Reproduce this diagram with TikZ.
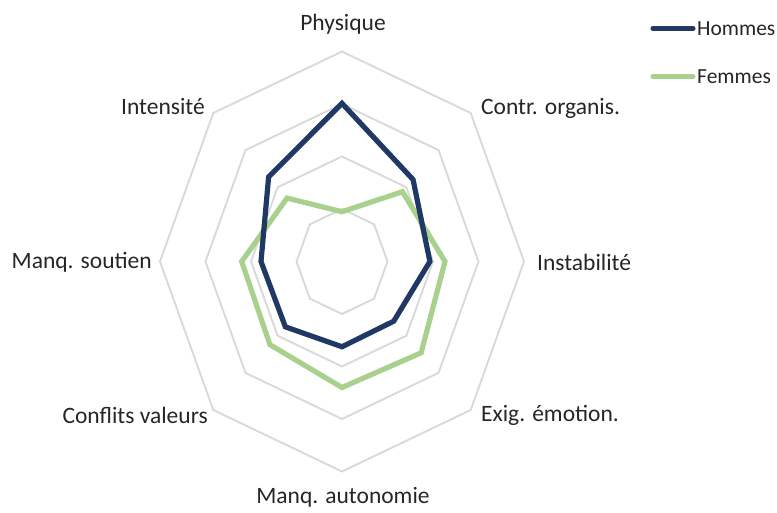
\documentclass[tikz,border=0pt]{standalone}
\usepackage{fontspec}
\setmainfont{Carlito}
\usetikzlibrary{positioning}
\definecolor{hommescolor}{RGB}{31,56,100}
\definecolor{femmescolor}{RGB}{169,209,142}
\definecolor{gridcolor}{RGB}{217,217,217}
\definecolor{labelcolor}{RGB}{38,38,38}

\begin{document}
\begin{tikzpicture}[
    x=1pt, y=1pt,
    ring/.style={draw=gridcolor, line width=1.9pt, line join=miter},
    serie/.style={line width=5.2pt, line join=miter},
    axislabel/.style={font=\fontsize{23.5}{28}\selectfont, text=labelcolor, inner sep=0pt},
    legendlabel/.style={font=\fontsize{21.5}{26}\selectfont, text=labelcolor, inner sep=0pt, anchor=west}
]
    \useasboundingbox (-342,-250.5) rectangle (435,261.5);

    \begin{scope}[x=182pt, y=210pt]
        % Rings
        \foreach \r in {0.25,0.5,0.75,1}
            \draw[ring] (90:\r) -- (45:\r) -- (0:\r) -- (-45:\r) -- (-90:\r)
                -- (-135:\r) -- (180:\r) -- (135:\r) -- cycle;

        % Femmes
        \draw[serie, femmescolor] (90:0.237) -- (45:0.47) -- (0:0.566) -- (-45:0.615)
            -- (-90:0.6) -- (-135:0.56) -- (180:0.551) -- (135:0.427) -- cycle;

        % Hommes
        \draw[serie, hommescolor] (90:0.753) -- (45:0.552) -- (0:0.483) -- (-45:0.402)
            -- (-90:0.406) -- (-135:0.44) -- (180:0.445) -- (135:0.57) -- cycle;
    \end{scope}

    % Axis labels
    \node[axislabel] (physique) at (1,237.5) {Physique};
    \node[axislabel, anchor=west] (contr) at (139,153.5) {Contr. organis.};
    \node[axislabel, anchor=west] (instab) at (195,-0.5) {Instabilité};
    \node[axislabel, anchor=west] (exig) at (139,-153.5) {Exig. émotion.};
    \node[axislabel] (autonomie) at (1,-235.5) {Manq. autonomie};
    \node[axislabel, anchor=east] (conflits) at (-134,-153.5) {Conflits valeurs};
    \node[axislabel, anchor=east] (soutien) at (-190,-0.5) {Manq. soutien};
    \node[axislabel, anchor=east] (intensite) at (-137,154.5) {Intensité};

    % Legend
    \node[legendlabel] (hommes) at (355,233) {Hommes};
    \node[legendlabel] (femmes) at (355,185) {Femmes};
    \draw[serie, hommescolor, line cap=round] ([xshift=-44pt]hommes.west) -- ([xshift=-4pt]hommes.west);
    \draw[serie, femmescolor, line cap=round] ([xshift=-44pt]femmes.west) -- ([xshift=-4pt]femmes.west);
\end{tikzpicture}
\end{document}
